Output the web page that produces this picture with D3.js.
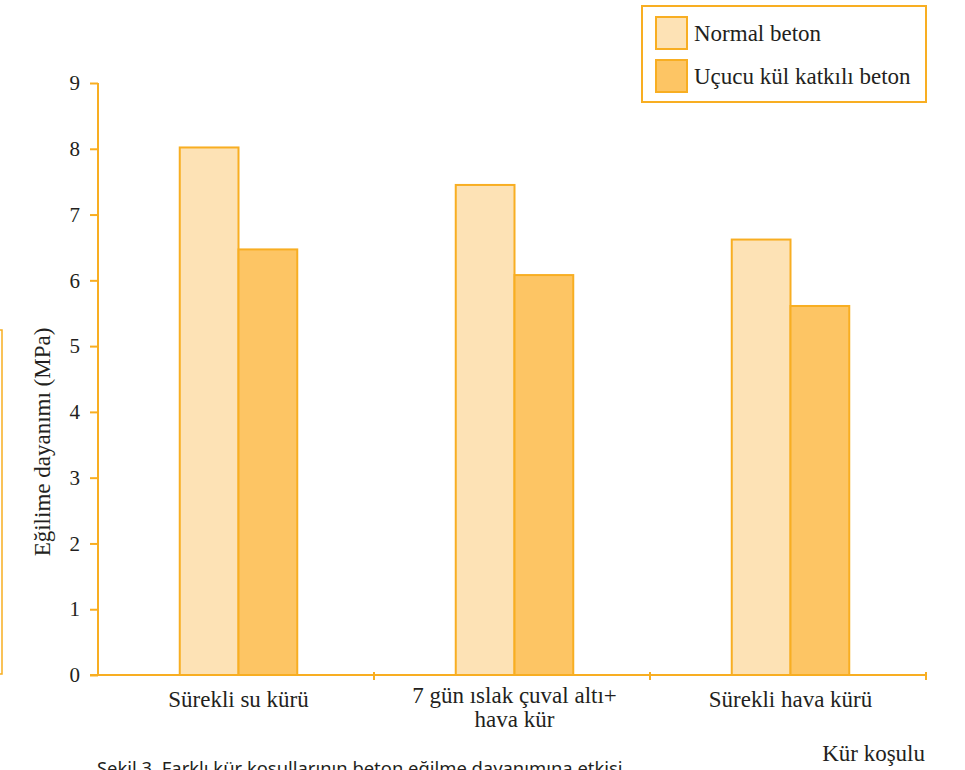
<!DOCTYPE html>
<html>
<head>
<meta charset="utf-8">
<script src="https://cdn.jsdelivr.net/npm/d3@7"></script>
<style>
  html, body { margin: 0; padding: 0; background: #ffffff; }
  svg { display: block; }
</style>
</head>
<body>
<svg id="chart" width="965" height="770"></svg>
<script>
// ---- Data ----
const categories = ["Sürekli su kürü", "7 gün ıslak çuval altı+\nhava kür", "Sürekli hava kürü"];
const series = ["Normal beton", "Uçucu kül katkılı beton"];
const normalBeton = [8.02, 7.45, 6.62];
const ucucuKulBeton = [6.47, 6.08, 5.61];
const yTicks = [0, 1, 2, 3, 4, 5, 6, 7, 8, 9];
const yLabel = "Eğilime dayanımı (MPa)";
const xLabel = "Kür koşulu";
const caption = "Şekil 3. Farklı kür koşullarının beton eğilme dayanımına etkisi";

const values = [normalBeton, ucucuKulBeton];

// ---- Styles ----
const ORANGE = "#F8AE22";
const FILLS = ["#FDE2B5", "#FDC564"];
const TEXT = "#231F20";
const SERIF = "'Liberation Serif', 'DejaVu Serif', serif";
const SANS = "'Noto Sans', 'Open Sans', sans-serif";
const FS = "23px";

const svg = d3.select("#chart");

const x = d3.scaleBand().domain(categories).range([98, 926]).padding(0);
const groupW = 117.5;
const inner = d3.scaleBand().domain(series).range([0, groupW]).padding(0);
const groupX = c => x(c) + (x.bandwidth() - groupW) / 2 + 2.5;
const y = d3.scaleLinear().domain([0, 9]).range([675, 83]);

// Bars
series.forEach((s, si) => {
  svg.append("g").selectAll("rect")
    .data(categories.map((c, ci) => ({ c, v: values[si][ci] })))
    .join("rect")
    .attr("x", d => groupX(d.c) + inner(s))
    .attr("y", d => y(d.v))
    .attr("width", inner.bandwidth())
    .attr("height", d => y(0) - y(d.v))
    .attr("fill", FILLS[si])
    .attr("stroke", ORANGE)
    .attr("stroke-width", 2);
});

// Y axis
const yAxis = d3.axisLeft(y).tickValues(yTicks).tickSize(8).tickPadding(10).tickFormat(d3.format("d"));
const gy = svg.append("g").attr("transform", "translate(98,0)").call(yAxis);
gy.select(".domain").attr("stroke", ORANGE).attr("stroke-width", 2).attr("d", `M0,${y(9)}V${y(0)}`);
gy.selectAll(".tick line").attr("stroke", ORANGE).attr("stroke-width", 2);
gy.selectAll(".tick text").attr("fill", TEXT).style("font-family", SERIF).style("font-size", "21px");

// X axis line
svg.append("line")
  .attr("x1", 90).attr("x2", 926)
  .attr("y1", y(0)).attr("y2", y(0))
  .attr("stroke", ORANGE).attr("stroke-width", 2);
// X ticks at band boundaries
svg.append("g").selectAll("line")
  .data(categories)
  .join("line")
  .attr("x1", c => x(c) + x.bandwidth()).attr("x2", c => x(c) + x.bandwidth())
  .attr("y1", y(0) - 3).attr("y2", y(0) + 5)
  .attr("stroke", ORANGE).attr("stroke-width", 2);

// Category labels
const catG = svg.append("g");
categories.forEach(c => {
  const lines = c.split("\n");
  const t = catG.append("text")
    .attr("x", groupX(c) + groupW / 2)
    .attr("y", lines.length > 1 ? 703 : 707)
    .attr("text-anchor", "middle")
    .attr("fill", TEXT)
    .style("font-family", SERIF)
    .style("font-size", FS);
  lines.forEach((ln, i) => {
    t.append("tspan").attr("x", groupX(c) + groupW / 2).attr("dy", i === 0 ? 0 : 24).text(ln);
  });
});

// Axis titles
svg.append("text")
  .attr("transform", `translate(50,442) rotate(-90)`)
  .attr("text-anchor", "middle")
  .attr("fill", TEXT)
  .style("font-family", SERIF).style("font-size", FS)
  .text(yLabel);

svg.append("text")
  .attr("x", 925).attr("y", 761)
  .attr("text-anchor", "end")
  .attr("fill", TEXT)
  .style("font-family", SERIF).style("font-size", FS)
  .text(xLabel);

// Caption (clipped at bottom, as in the reference)
svg.append("text")
  .attr("x", 97).attr("y", 775)
  .attr("fill", TEXT)
  .style("font-family", SANS).style("font-size", "18.4px")
  .text(caption);

// Legend
const lg = svg.append("g");
lg.append("rect").attr("x", 642).attr("y", 6).attr("width", 284).attr("height", 96)
  .attr("fill", "#ffffff").attr("stroke", ORANGE).attr("stroke-width", 2);
series.forEach((s, i) => {
  lg.append("rect").attr("x", 656).attr("y", 17 + i * 43).attr("width", 31).attr("height", 32)
    .attr("fill", FILLS[i]).attr("stroke", ORANGE).attr("stroke-width", 2);
  lg.append("text").attr("x", 694).attr("y", 41 + i * 43)
    .attr("fill", TEXT).style("font-family", SERIF).style("font-size", FS).text(s);
});

// Partial frame edge at left (from adjacent figure)
svg.append("path")
  .attr("d", "M0,330H2V674H0")
  .attr("fill", "none").attr("stroke", ORANGE).attr("stroke-width", 1.5);
</script>
</body>
</html>
